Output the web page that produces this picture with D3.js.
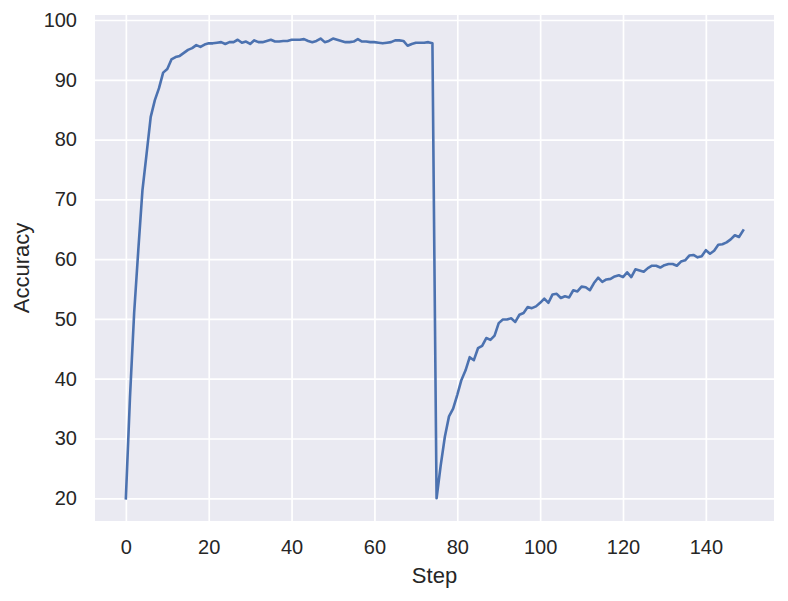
<!DOCTYPE html>
<html>
<head>
<meta charset="utf-8">
<script src="https://cdn.jsdelivr.net/npm/d3@7"></script>
<style>
  html, body { margin: 0; padding: 0; background: #ffffff; }
  svg { display: block; }
</style>
</head>
<body>
<svg id="chart" width="788" height="601"></svg>
<script>
// ---- data ----
const accuracy = [
  20.0, 37.0, 51.0, 61.5, 71.5, 77.6, 83.8, 86.6, 88.6, 91.2,
  91.8, 93.4, 93.8, 94.0, 94.5, 95.0, 95.3, 95.8, 95.5, 95.9,
  96.1, 96.1, 96.2, 96.3, 96.0, 96.3, 96.3, 96.7, 96.2, 96.4,
  96.0, 96.6, 96.3, 96.3, 96.5, 96.7, 96.4, 96.4, 96.5, 96.5,
  96.7, 96.7, 96.7, 96.8, 96.5, 96.3, 96.5, 96.9, 96.3, 96.5,
  96.9, 96.7, 96.5, 96.3, 96.3, 96.4, 96.8, 96.4, 96.4, 96.3,
  96.3, 96.2, 96.1, 96.2, 96.3, 96.6, 96.6, 96.5, 95.7, 96.0,
  96.2, 96.2, 96.2, 96.3, 96.1, 20.0, 25.5, 30.3, 33.7, 35.0,
  37.3, 39.8, 41.4, 43.6, 43.1, 45.1, 45.5, 46.8, 46.5, 47.2,
  49.3, 49.9, 49.9, 50.1, 49.5, 50.7, 51.0, 52.0, 51.8, 52.1,
  52.7, 53.4, 52.7, 54.1, 54.2, 53.5, 53.8, 53.6, 54.8, 54.6,
  55.4, 55.3, 54.8, 56.0, 56.9, 56.2, 56.6, 56.7, 57.1, 57.3,
  57.0, 57.8, 57.0, 58.3, 58.1, 57.9, 58.5, 58.9, 58.9, 58.6,
  59.0, 59.2, 59.2, 58.9, 59.6, 59.8, 60.6, 60.7, 60.3, 60.5,
  61.5, 60.9, 61.4, 62.4, 62.5, 62.8, 63.3, 64.0, 63.7, 64.8
];
const steps = accuracy.map((_, i) => i);
const xTicks = [0, 20, 40, 60, 80, 100, 120, 140];
const yTicks = [20, 30, 40, 50, 60, 70, 80, 90, 100];
const xLabel = "Step";
const yLabel = "Accuracy";

// ---- layout ----
const plot = { left: 95, right: 774, top: 15, bottom: 521 };
const svg = d3.select("#chart");

const x = d3.scaleLinear().domain([-7.45, 156.45]).range([plot.left, plot.right]);
const y = d3.scaleLinear().domain([16.2, 100.84]).range([plot.bottom, plot.top]);

const font = "'Liberation Sans', Arial, sans-serif";
const textColor = "#262626";

// background
svg.append("rect")
  .attr("x", plot.left).attr("y", plot.top)
  .attr("width", plot.right - plot.left).attr("height", plot.bottom - plot.top)
  .attr("fill", "#EAEAF2");

// grid via axes
const gx = svg.append("g")
  .attr("transform", `translate(0,${plot.bottom})`)
  .call(d3.axisBottom(x).tickValues(xTicks).tickSize(-(plot.bottom - plot.top)).tickPadding(19).tickFormat(d3.format("d")));
const gy = svg.append("g")
  .attr("transform", `translate(${plot.left},0)`)
  .call(d3.axisLeft(y).tickValues(yTicks).tickSize(-(plot.right - plot.left)).tickPadding(18).tickFormat(d3.format("d")));

[gx, gy].forEach(g => {
  g.select(".domain").remove();
  g.selectAll(".tick line").attr("stroke", "#ffffff").attr("stroke-width", 1.7);
  g.selectAll(".tick text")
    .attr("fill", textColor)
    .style("font-family", font)
    .style("font-size", "20px");
});

// line
const line = d3.line().x((d, i) => x(steps[i])).y(d => y(d));
svg.append("path")
  .datum(accuracy)
  .attr("d", line)
  .attr("fill", "none")
  .attr("stroke", "#4C72B0")
  .attr("stroke-width", 2.6)
  .attr("stroke-linejoin", "round")
  .attr("stroke-linecap", "square");

// axis labels
svg.append("text")
  .attr("x", (plot.left + plot.right) / 2)
  .attr("y", 583)
  .attr("text-anchor", "middle")
  .attr("fill", textColor)
  .style("font-family", font)
  .style("font-size", "22px")
  .text(xLabel);

svg.append("text")
  .attr("transform", `translate(29,${(plot.top + plot.bottom) / 2}) rotate(-90)`)
  .attr("text-anchor", "middle")
  .attr("fill", textColor)
  .style("font-family", font)
  .style("font-size", "22px")
  .text(yLabel);
</script>
</body>
</html>
